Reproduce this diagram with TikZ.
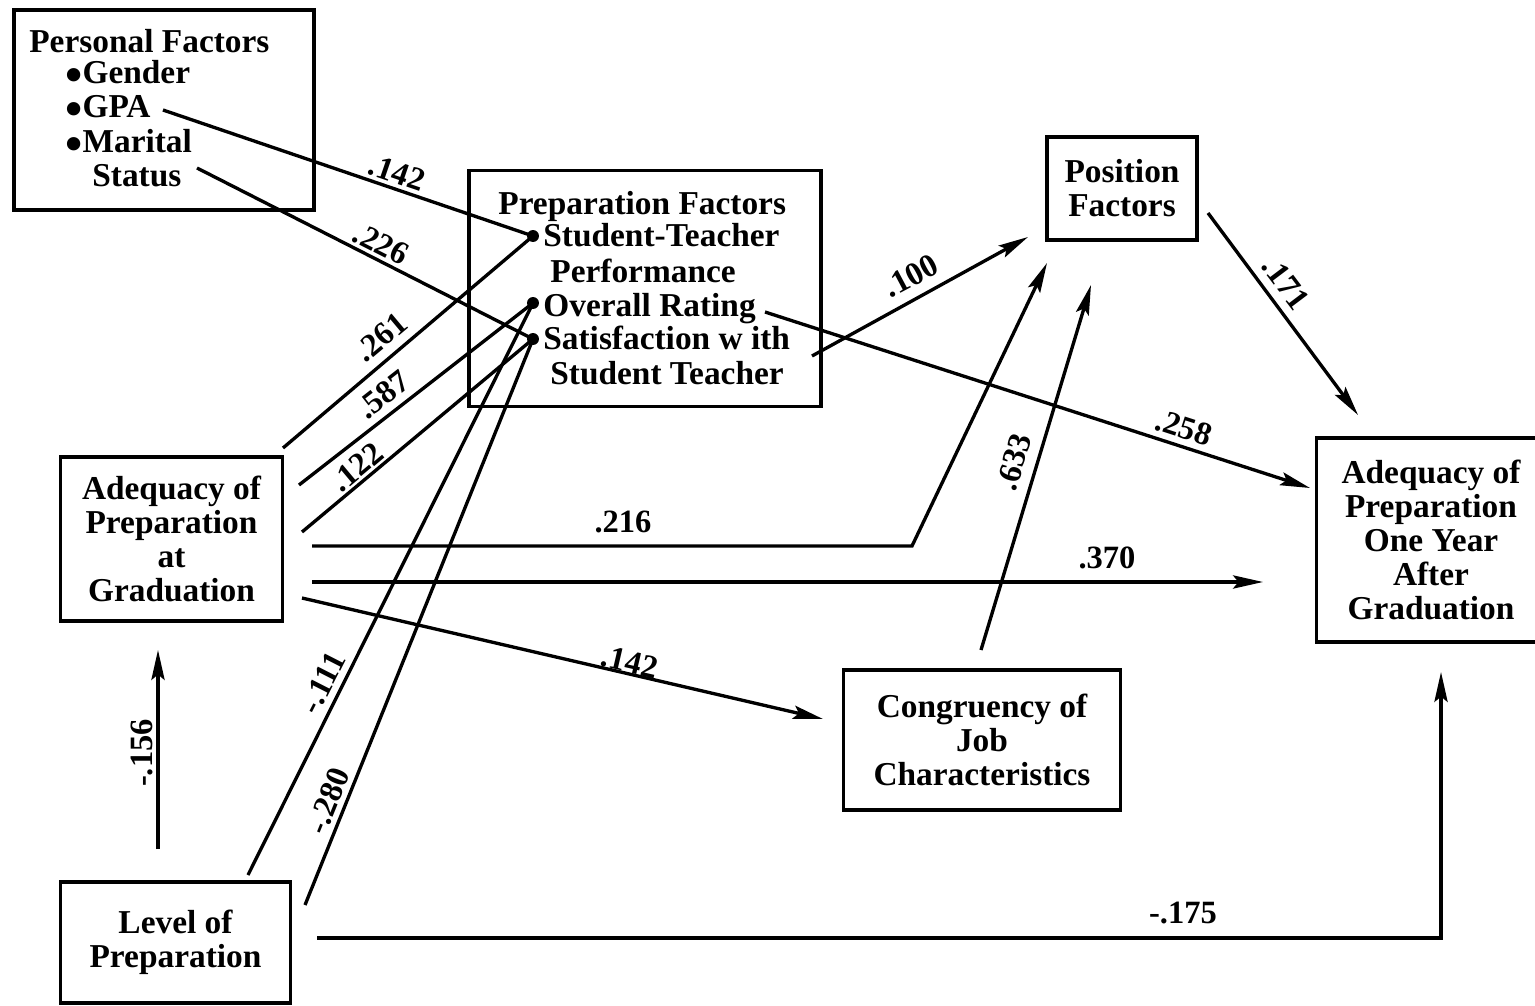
\documentclass[tikz,border=0pt]{standalone}
\usepackage{fontspec}
\setmainfont{Liberation Serif}
\usetikzlibrary{arrows.meta}
\newcommand\boxfont{\bfseries\fontsize{19}{19.3}\selectfont}
\newcommand\labfont{\bfseries\fontsize{18.5}{19}\selectfont}
\newcommand\bigbul{\raisebox{-4.3pt}{\fontsize{28}{19}\selectfont •}}
\begin{document}
\begin{tikzpicture}[x=0.02cm,y=-0.02cm,
  box/.style={draw,line width=2.2pt,inner sep=0pt,align=center,font=\boxfont},
  txt/.style={inner sep=0pt,anchor=base west,font=\boxfont},
  conn/.style={line width=1.9pt},
  arr/.style={conn,-{Stealth[length=17pt,width=7.5pt,inset=3pt]}},
  lab/.style={inner sep=0pt,font=\labfont},
  dotn/.style={circle,fill,inner sep=0pt,minimum size=6.8pt}]
\clip (0,0) rectangle (1535,1006);
\fill[white] (0,0) rectangle (1535,1006);
% boxes
\node[box,minimum width=302*0.5669pt,minimum height=200*0.5669pt] (pers) at (164,110) {};
\node[box,minimum width=354*0.5669pt,minimum height=237*0.5669pt] (prep) at (645,288.5) {};
\node[box,minimum width=150*0.5669pt,minimum height=103*0.5669pt] (posf) at (1122,188.5) {Position\\Factors};
\node[box,minimum width=223*0.5669pt,minimum height=164*0.5669pt] (agrad) at (171.5,539) {Adequacy of\\Preparation\\at\\Graduation};
\node[box,minimum width=230*0.5669pt,minimum height=204*0.5669pt] (ayear) at (1431,540) {Adequacy of\\Preparation\\One Year\\After\\Graduation};
\node[box,minimum width=278*0.5669pt,minimum height=140*0.5669pt] (cong) at (982,740) {Congruency of\\Job\\Characteristics};
\node[box,minimum width=231*0.5669pt,minimum height=121*0.5669pt] (lvl) at (175.5,942.5) {Level of\\Preparation};
% list texts
\node[txt] (pers0) at (29,53) {Personal Factors};
\node[txt] (pers1) at (65,84) {\bigbul Gender};
\node[txt] (pers2) at (65,118) {\bigbul GPA};
\node[txt] (pers3) at (65,153) {\bigbul Marital};
\node[txt] (pers4) at (92,187) {Status};
\node[txt] (prep0) at (498,215) {Preparation Factors};
\node[txt] (prep1) at (543,247) {Student-Teacher};
\node[txt] (prep2) at (550,283) {Performance};
\node[txt] (prep3) at (543,317) {Overall Rating};
\node[txt] (prep4) at (543,350) {Satisfaction w ith};
\node[txt] (prep5) at (550,385) {Student Teacher};
% dots
\node[dotn] (dST) at (533,236) {};
\node[dotn] (dOR) at (533,303) {};
\node[dotn] (dSA) at (533,339) {};
% free ends
\coordinate (gpaE) at (163,110);
\coordinate (marE) at (197,168);
\coordinate (a261) at (283,448);
\coordinate (a587) at (299,485);
\coordinate (a122) at (302,532);
\coordinate (a216) at (312,546);
\coordinate (b216) at (912,546);
\coordinate (t216) at (1047,263);
\coordinate (a370) at (312,582);
\coordinate (t370) at (1263,582);
\coordinate (a142) at (302,598);
\coordinate (t142) at (823,719);
\coordinate (l111) at (248,875);
\coordinate (l280) at (305,905);
\coordinate (a175) at (317,938);
\coordinate (b175) at (1441,938);
\coordinate (t175) at (1441,672);
\coordinate (v156) at (158,849);
\coordinate (t156) at (158,650);
\coordinate (orE) at (765,312);
\coordinate (t258) at (1310,488);
\coordinate (saE) at (812,356);
\coordinate (t100) at (1028,237);
\coordinate (pfS) at (1208,213);
\coordinate (t171) at (1358,415);
\coordinate (cgT) at (981,650);
\coordinate (t633) at (1091,285);
% connectors
\draw[conn] (gpaE) -- (dST.center);
\draw[conn] (marE) -- (dSA.center);
\draw[conn] (a261) -- (dST.center);
\draw[conn] (a587) -- (dOR.center);
\draw[conn] (a122) -- (dSA.center);
\draw[conn] (l111) -- (dOR.center);
\draw[conn] (l280) -- (dSA.center);
\draw[arr] (orE) -- (t258);
\draw[arr] (saE) -- (t100);
\draw[arr] (pfS) -- (t171);
\draw[arr] (a216) -- (b216) -- (t216);
\draw[arr] (a370) -- (t370);
\draw[arr] (a142) -- (t142);
\draw[arr] (cgT) -- (t633);
\draw[arr] (v156) -- (t156);
\draw[arr] (a175) -- (b175) -- (t175);
% labels
\node[lab,rotate=-19] (L1) at (397,173) {.142};
\node[lab,rotate=-27] (L2) at (381,244) {.226};
\node[lab,rotate=40] (L3) at (381,337) {.261};
\node[lab,rotate=38] (L4) at (383,395) {.587};
\node[lab,rotate=40] (L5) at (357,467) {.122};
\node[lab,rotate=63] (L6) at (323,683) {-.111};
\node[lab,rotate=68] (L7) at (328,801) {-.280};
\node[lab,rotate=28] (L8) at (911,276) {.100};
\node[lab,rotate=-18] (L9) at (1184,428) {.258};
\node[lab,rotate=-53] (L10) at (1286,283) {.171};
\node[lab] (L11) at (623,522) {.216};
\node[lab] (L12) at (1107,558) {.370};
\node[lab,rotate=-13] (L13) at (630,662) {.142};
\node[lab,rotate=73] (L14) at (1014,462) {.633};
\node[lab,rotate=90] (L15) at (142,753) {-.156};
\node[lab] (L16) at (1183,913) {-.175};
\end{tikzpicture}
\end{document}
